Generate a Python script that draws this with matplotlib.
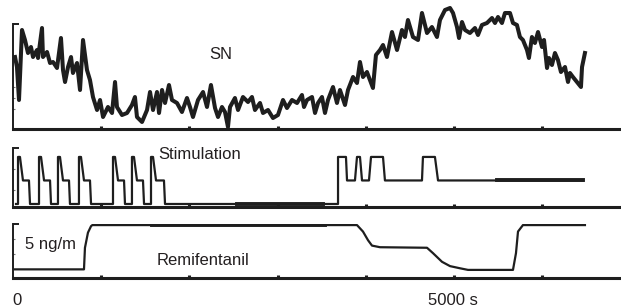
import numpy as np
import matplotlib.pyplot as plt

plt.rcParams['font.family'] = ['Liberation Sans', 'DejaVu Sans']

# SN (arbitrary units) vs time (s)
sn_t = [23, 45, 68, 102, 136, 170, 204, 227, 272, 284, 329, 340, 386, 420, 454, 499,
        544, 567, 590, 624, 658, 680, 726, 760, 794, 839, 873, 907, 953, 987, 1021,
        1077, 1123, 1157, 1179, 1236, 1293, 1349, 1383, 1406, 1463, 1520, 1554, 1588,
        1633, 1656, 1690, 1724, 1769, 1803, 1860, 1916, 1973, 2007, 2041, 2098, 2155,
        2200, 2245, 2291, 2325, 2370, 2404, 2438, 2461, 2517, 2552, 2608, 2665, 2710,
        2744, 2801, 2835, 2892, 2948, 3005, 3062, 3107, 3164, 3221, 3277, 3300, 3334,
        3391, 3425, 3459, 3504, 3538, 3572, 3629, 3674, 3708, 3765, 3799, 3856, 3901,
        3935, 3969, 4014, 4048, 4082, 4116, 4162, 4196, 4241, 4298, 4355, 4411, 4445,
        4479, 4536, 4593, 4638, 4695, 4751, 4808, 4842, 4899, 4956, 4990, 5035, 5058,
        5092, 5126, 5182, 5239, 5273, 5318, 5375, 5432, 5466, 5500, 5545, 5579, 5636,
        5670, 5715, 5749, 5783, 5829, 5851, 5885, 5919, 5954, 5999, 6022, 6056, 6078,
        6112, 6146, 6180, 6214, 6260, 6294, 6316, 6350, 6396, 6441, 6453, 6486]
sn_v = [72, 62, 29, 99, 89, 76, 82, 72, 79, 71, 101, 72, 77, 66, 67, 61,
        91, 59, 47, 62, 72, 56, 66, 39, 89, 59, 49, 32, 19, 29, 12,
        22, 16, 47, 22, 14, 16, 24, 32, 12, 7, 19, 37, 19,
        37, 16, 39, 26, 44, 29, 26, 17, 31, 22, 12, 29, 37,
        22, 44, 21, 12, 22, 17, 2, 22, 31, 19, 32, 27, 32,
        19, 26, 16, 19, 11, 14, 29, 21, 29, 26, 34, 22, 29,
        32, 16, 26, 32, 16, 29, 42, 26, 39, 24, 39, 52, 46,
        67, 52, 57, 49, 41, 74, 79, 84, 72, 97, 79, 99, 92,
        109, 92, 89, 116, 96, 102, 92, 109, 119, 121, 116, 102, 91,
        107, 99, 96, 101, 94, 104, 106, 111, 106, 112, 106, 116, 116,
        106, 104, 92, 89, 79, 71, 92, 86, 97, 82, 89, 61, 71,
        64, 76, 69, 57, 62, 47, 56, 52, 47, 42, 62, 76]

# Stimulation (relative level: 0 off, 0.5 plateau, 1 peak)
stim_t = [34, 57, 57, 79, 113, 181, 193,
          295, 295, 318, 352, 420, 431,
          510, 510, 533, 567, 635, 646,
          748, 748, 771, 805, 873, 885,
          1134, 1134, 1157, 1191, 1259, 1270,
          1349, 1349, 1372, 1406, 1474, 1486,
          1565, 1565, 1588, 1622, 1712, 1724,
          3686, 3686, 3776, 3788, 3878, 3901, 3935, 3958, 4037, 4060, 4196, 4218,
          4638, 4649, 4785, 4820, 6464]
stim_v = [0, 0, 1, 1, 0.5, 0.5, 0,
          0, 1, 1, 0.5, 0.5, 0,
          0, 1, 1, 0.5, 0.5, 0,
          0, 1, 1, 0.5, 0.5, 0,
          0, 1, 1, 0.5, 0.5, 0,
          0, 1, 1, 0.5, 0.5, 0,
          0, 1, 1, 0.5, 0.5, 0,
          0, 1, 1, 0.5, 0.5, 1, 1, 0.5, 0.5, 1, 1, 0.5,
          0.5, 1, 1, 0.5, 0.5]
stim_dense = [(2540, 3515, 0), (5489, 6464, 0.5)]

# Remifentanil (ng/ml)
remi_t = [23, 805, 816, 850, 885, 900, 3901, 3969, 4026, 4071, 4162, 4695, 4763,
          4865, 4956, 5069, 5160, 5670, 5704, 5727, 5783, 6486]
remi_v = [0.8, 0.8, 2.8, 4.2, 4.8, 4.9, 4.9, 4.3, 3.5, 3.0, 2.85, 2.8, 2.3,
          1.5, 1.1, 0.9, 0.75, 0.75, 2.3, 4.3, 4.9, 4.9]
remi_dense = (1576, 3538, 4.9)

xticks = [1000, 2000, 3000, 4000, 5000, 6000]
t_max = 6895
ink = '#1e1e1e'

W, H = 621, 308
fig = plt.figure(figsize=(W / 100, H / 100), dpi=100)


def panel(top, bottom):
    ax = fig.add_axes([13 / W, 1 - bottom / H, (W - 13) / W, (bottom - top) / H])
    ax.set_xlim(0, t_max)
    for s in ['top', 'right']:
        ax.spines[s].set_visible(False)
    ax.spines['bottom'].set_linewidth(2.2)
    ax.spines['left'].set_linewidth(1.4)
    ax.spines['bottom'].set_color(ink)
    ax.spines['left'].set_color(ink)
    ax.set_xticks(xticks)
    ax.tick_params(axis='x', direction='in', length=2.5, width=2.2, color=ink,
                   labelbottom=False)
    ax.tick_params(axis='y', direction='in', length=4, width=1.4, color=ink,
                   labelleft=False)
    ax.tick_params(axis='y', which='minor', direction='in', length=1.5, width=0.8,
                   color='#777777')
    ax.patch.set_visible(False)
    return ax


ax1 = panel(2, 129)
ax1.set_ylim(0, 127)
ax1.spines['left'].set_bounds(0, 105)
ax1.set_yticks([105])
ax1.set_yticks([20, 31, 42], minor=True)
ax1.plot(sn_t, sn_v, color=ink, lw=2.9, solid_joinstyle='round')

ax2 = panel(148, 207)
ax2.set_ylim(-0.064, 1.19)
ax2.set_yticks([1.19])
ax2.set_yticks([0.3, 0.75], minor=True)
ax2.plot(stim_t, stim_v, color=ink, lw=1.6)
for t0, t1, v in stim_dense:
    ax2.plot([t0, t1], [v, v], color=ink, lw=2.8)

ax3 = panel(224, 278)
ax3.set_ylim(0, 5)
ax3.set_yticks([5])
ax3.set_yticks([2.2, 3.6], minor=True)
ax3.plot(remi_t, remi_v, color=ink, lw=1.6)
ax3.plot([remi_dense[0], remi_dense[1]], [remi_dense[2]] * 2, color=ink, lw=2.8)


def label(x, y, s, ha='left'):
    fig.text(x / W, 1 - y / H, s, ha=ha, va='baseline', fontsize=12, color='#231f20')


label(221, 59, 'SN', ha='center')
label(158, 159, 'Stimulation')
label(25, 249, '5 ng/m')
label(157, 265, 'Remifentanil')
label(17, 305, '0', ha='center')
label(453, 305, '5000 s', ha='center')

fig.savefig('out.png', dpi=100)
